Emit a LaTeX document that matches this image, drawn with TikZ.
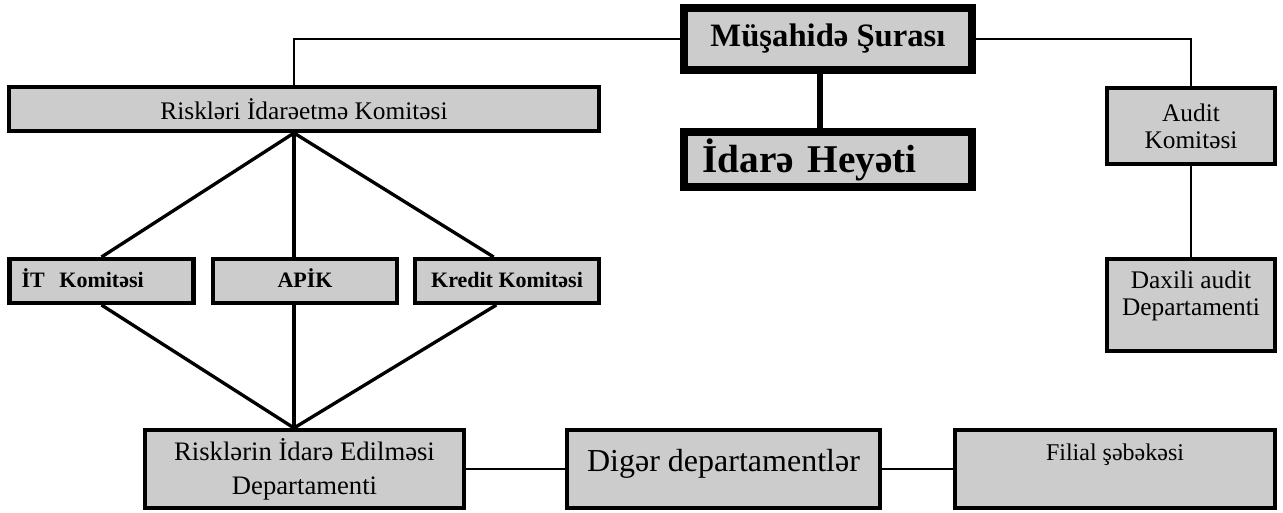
\documentclass[tikz,border=0pt]{standalone}
\usepackage{fontspec}
\setmainfont{Liberation Serif}
\definecolor{boxgray}{RGB}{204,204,204}

\begin{document}
\begin{tikzpicture}[x=0.75pt,y=-0.75pt,
    box/.style={draw,fill=boxgray,line width=3.2pt,inner sep=0pt,align=center,font=\fontsize{19}{20.25}\selectfont},
    bigbox/.style={box,line width=6pt,minimum width=216pt},
    smallbox/.style={box,minimum width=138pt,minimum height=32.8pt,text height=11pt,text depth=0.5pt,font=\fontsize{16.5}{19}\selectfont\bfseries},
    conn/.style={line width=2.2pt}]
      \useasboundingbox (0,0) rectangle (1283,513);
      \coordinate (hub) at (294,0);
      % top of the structure
      \node[bigbox,minimum height=46.5pt,font=\fontsize{24.5}{28}\selectfont\bfseries] (mus) at (828,39) {Müşahidə Şurası};
      \node[bigbox,minimum height=41.3pt,font=\fontsize{29.5}{32}\selectfont\bfseries,text width=200pt,align=left] (ida) at (828,159.5) {\hspace{6pt}İdarə Heyəti};
      % risk side
      \node[box,minimum width=442pt,minimum height=32.8pt] (rik) at (304,109) {Riskləri İdarəetmə Komitəsi};
      \node[smallbox,text width=120pt,align=left] (itk) at (101.5,281) {İT\ \ Komitəsi};
      \node[smallbox] (apik) at (305,281) {APİK};
      \node[smallbox] (krk) at (507,281) {Kredit Komitəsi};
      % audit side
      \node[box,minimum width=125.8pt,minimum height=56.8pt] (audk) at (1191,126) {Audit\\Komitəsi};
      \node[box,minimum width=125.8pt,minimum height=68.8pt,text height=34pt,text depth=17.5pt] (daxd) at (1191,305) {Daxili audit\\Departamenti};
      % departments
      \node[box,minimum width=239pt,minimum height=58.3pt,font=\fontsize{20}{25.5}\selectfont] (rid) at (304.5,469) {Risklərin İdarə Edilməsi\\Departamenti};
      \node[box,minimum width=234.5pt,minimum height=58.3pt,font=\fontsize{24}{28}\selectfont,text height=17pt,text depth=13pt] (dig) at (723.5,469) {Digər departamentlər};
      \node[box,minimum width=239.8pt,minimum height=58.3pt,font=\fontsize{18}{21}\selectfont,text height=13pt,text depth=26pt] (fil) at (1115,469) {Filial şəbəkəsi};
      % connectors
      \draw[conn] (mus.west) -| (rik.north -| hub);
      \draw[conn] (mus.east) -| (audk.north);
      \draw[line width=3.8pt] ([xshift=-6pt]mus.south) -- ([xshift=-6pt]ida.north);
      \draw[line width=2.5pt] (rik.south -| hub) -- (itk.north);
      \draw[line width=2.5pt] (rik.south -| hub) -- (apik.north -| hub);
      \draw[line width=2.5pt] (rik.south -| hub) -- ([xshift=-10pt]krk.north);
      \draw[line width=2.5pt] (itk.south) -- (rid.north -| hub);
      \draw[line width=2.5pt] (apik.south -| hub) -- (rid.north -| hub);
      \draw[line width=2.5pt] ([xshift=-8pt]krk.south) -- (rid.north -| hub);
      \draw[conn] (audk.south) -- (daxd.north);
      \draw[conn] (rid.east) -- (dig.west);
      \draw[conn] (dig.east) -- (fil.west);
\end{tikzpicture}
\end{document}
